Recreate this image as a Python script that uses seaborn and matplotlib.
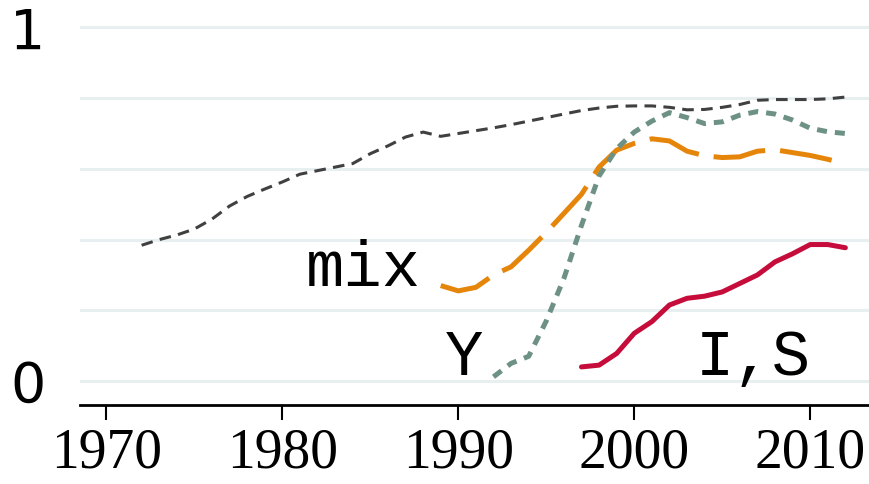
import matplotlib
matplotlib.use("Agg")
import matplotlib.pyplot as plt
import seaborn as sns

# data
years_all = list(range(1972, 2013))
share_all = [0.384, 0.400, 0.413, 0.430, 0.458, 0.495, 0.522, 0.543, 0.563, 0.585,
             0.595, 0.605, 0.615, 0.643, 0.665, 0.690, 0.704, 0.692, 0.700, 0.708,
             0.716, 0.725, 0.735, 0.745, 0.755, 0.765, 0.772, 0.777, 0.778, 0.778,
             0.774, 0.767, 0.768, 0.774, 0.782, 0.794, 0.796, 0.796, 0.796, 0.798,
             0.803]

years_mix = list(range(1989, 2013))
share_mix = [0.270, 0.255, 0.265, 0.300, 0.323, 0.370, 0.420, 0.474, 0.528, 0.605,
             0.653, 0.672, 0.685, 0.679, 0.650, 0.637, 0.632, 0.634, 0.650, 0.654,
             0.646, 0.638, 0.627, 0.615]

years_y = list(range(1992, 2013))
share_y = [0.012, 0.050, 0.070, 0.170, 0.290, 0.440, 0.580, 0.657, 0.704, 0.735,
           0.759, 0.745, 0.728, 0.733, 0.752, 0.762, 0.755, 0.738, 0.715, 0.705,
           0.700]

years_is = list(range(1997, 2013))
share_is = [0.040, 0.045, 0.078, 0.135, 0.168, 0.215, 0.234, 0.240, 0.252, 0.276,
            0.300, 0.337, 0.360, 0.386, 0.386, 0.377]

x_ticks = [1970, 1980, 1990, 2000, 2010]
y_ticks = [0, 1]
grid_levels = [0, 0.2, 0.4, 0.6, 0.8, 1.0]

sns.set_style("white")
plt.rcParams["text.color"] = "black"
plt.rcParams["xtick.color"] = "black"
plt.rcParams["ytick.color"] = "black"

fig = plt.figure(figsize=(8.7, 4.84), dpi=100)
ax = fig.add_axes([0.092, 0.163, 0.908, 0.795])

for g in grid_levels:
    ax.axhline(g, color="#e8eff1", lw=2.2, zorder=0)

sns.lineplot(x=years_all, y=share_all, ax=ax, color="#404040", lw=2.2,
             linestyle=(0, (3.8, 2.4)))
sns.lineplot(x=years_mix, y=share_mix, ax=ax, color="#e5860b", lw=3.6,
             linestyle=(0, (10.5, 3.0)))
sns.lineplot(x=years_y, y=share_y, ax=ax, color="#6e9186", lw=3.6,
             linestyle=(0, (2.0, 1.6)))
sns.lineplot(x=years_is, y=share_is, ax=ax, color="#c60c3a", lw=3.6)

mono = "Liberation Mono"
ax.text(1987.9, 0.27, "mix", family=mono, fontsize=46, ha="right", va="baseline",
        color="black")
ax.text(1991.4, 0.017, "Y", family=mono, fontsize=46, ha="right", va="baseline",
        color="black")
ax.text(2003.5, 0.017, "I,S", family=mono, fontsize=46, ha="left", va="baseline",
        color="black")

ax.set_xlim(1968.5, 2013.4)
ax.set_ylim(-0.068, 1.02)
ax.set_xticks(x_ticks)
ax.set_xticklabels([str(t) for t in x_ticks], family="Liberation Serif", fontsize=40)
ax.set_yticks(y_ticks)
ax.set_yticklabels([str(t) for t in y_ticks], family="DejaVu Sans", fontsize=40)
ax.tick_params(axis="x", bottom=True, direction="out", length=11, width=1.5,
               pad=5, color="black", labelcolor="black")
ax.tick_params(axis="y", left=False, length=0, pad=25, labelcolor="black")

for side in ["top", "right", "left"]:
    ax.spines[side].set_visible(False)
ax.spines["bottom"].set_linewidth(2)
ax.spines["bottom"].set_color("black")
ax.set_xlabel("")
ax.set_ylabel("")

fig.savefig("out.png", dpi=100)
